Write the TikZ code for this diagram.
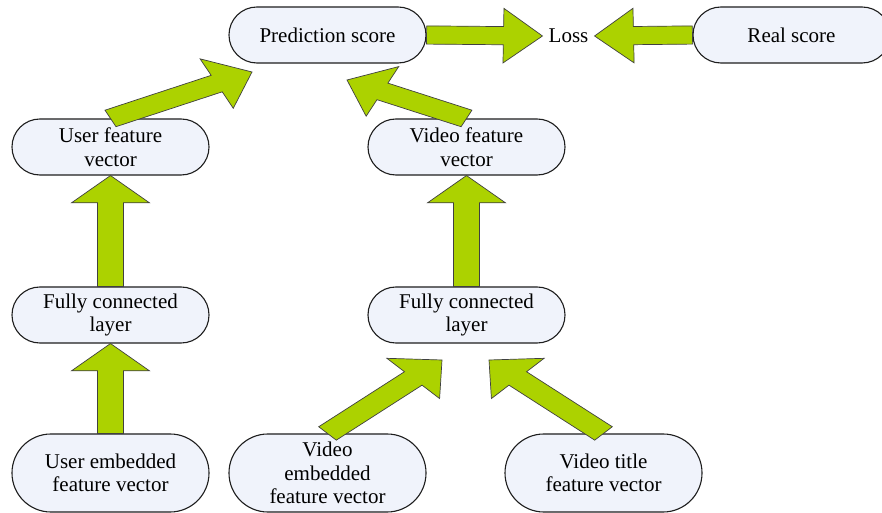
\documentclass[tikz,border=0pt]{standalone}
\usepackage{fontspec}
\setmainfont{Liberation Serif}
\usetikzlibrary{calc}

\definecolor{boxfill}{RGB}{240,243,251}
\definecolor{arrowgreen}{RGB}{172,210,0}
\definecolor{edgegray}{RGB}{30,30,30}

\tikzset{
  term/.style={draw=edgegray, line width=1.1pt, fill=boxfill,
    rounded corners=27.9pt, minimum width=197pt, minimum height=56pt,
    inner sep=0pt, align=center, font=\fontsize{21}{23.5}\selectfont},
  tallterm/.style={term, minimum height=78pt, rounded corners=38.9pt},
  plainlabel/.style={inner sep=6pt, font=\fontsize{21}{23.5}\selectfont},
  fatarrowstyle/.style={draw=edgegray!85, line width=0.7pt, fill=arrowgreen,
    line join=miter},
}

% Block arrow from #1 (tail centre) to #2 (tip).
% Shaft 26, head 78 wide and 39 long, in a frame squashed vertically by 0.7.
\newcommand\fatarrow[2]{%
  \draw[fatarrowstyle] let \p1=(#1), \p2=(#2),
      \n1={\x2-\x1}, \n2={(\y2-\y1)/0.7}, \n3={veclen(\n1,\n2)},
      \n4={\n1/\n3}, \n5={\n2/\n3}, \n6={\n3-39}
    in ({\x1-13*\n5},{\y1+9.1*\n4})
    -- ({\x1+\n6*\n4-13*\n5},{\y1+0.7*(\n6*\n5+13*\n4)})
    -- ({\x1+\n6*\n4-39*\n5},{\y1+0.7*(\n6*\n5+39*\n4)})
    -- (\p2)
    -- ({\x1+\n6*\n4+39*\n5},{\y1+0.7*(\n6*\n5-39*\n4)})
    -- ({\x1+\n6*\n4+13*\n5},{\y1+0.7*(\n6*\n5-13*\n4)})
    -- ({\x1+13*\n5},{\y1-9.1*\n4})
    -- cycle;}

\begin{document}
\begin{tikzpicture}[x=1pt,y=1pt]
  \clip (0,0) rectangle (882,513);
  \fill[white] (0,0) rectangle (882,513);

  % top row
  \node[term] (pred) at (327.5,478) {Prediction score};
  \node[plainlabel] (loss) at (568.5,477) {Loss};
  \node[term] (real) at (791.5,478) {Real score};

  % feature vectors
  \node[term] (ufv) at (110.5,366) {User feature\\vector};
  \node[term] (vfv) at (466.5,366) {Video feature\\vector};

  % fully connected layers
  \node[term] (ufc) at (110.5,198) {Fully connected\\layer};
  \node[term] (vfc) at (466.5,198) {Fully connected\\layer};

  % inputs
  \node[tallterm] (uemb) at (110.5,40) {User embedded\\feature vector};
  \node[tallterm] (vemb) at (327.5,40) {Video\\embedded\\feature vector};
  \node[tallterm] (vtitle) at (603.5,40) {Video title\\feature vector};

  % free ends of the slanted arrows
  \coordinate (tipA) at (252,441);
  \coordinate (tipB) at (347,433);
  \coordinate (tipC) at (442,153);
  \coordinate (tipD) at (489,153);

  % arrows
  \fatarrow{pred.east}{loss.west}
  \fatarrow{real.west}{loss.east}
  \fatarrow{ufv.north}{tipA}
  \fatarrow{vfv.north}{tipB}
  \fatarrow{ufc.north}{ufv.south}
  \fatarrow{vfc.north}{vfv.south}
  \fatarrow{uemb.north}{ufc.south}
  \fatarrow{vemb.north}{tipC}
  \fatarrow{vtitle.north}{tipD}
\end{tikzpicture}
\end{document}
